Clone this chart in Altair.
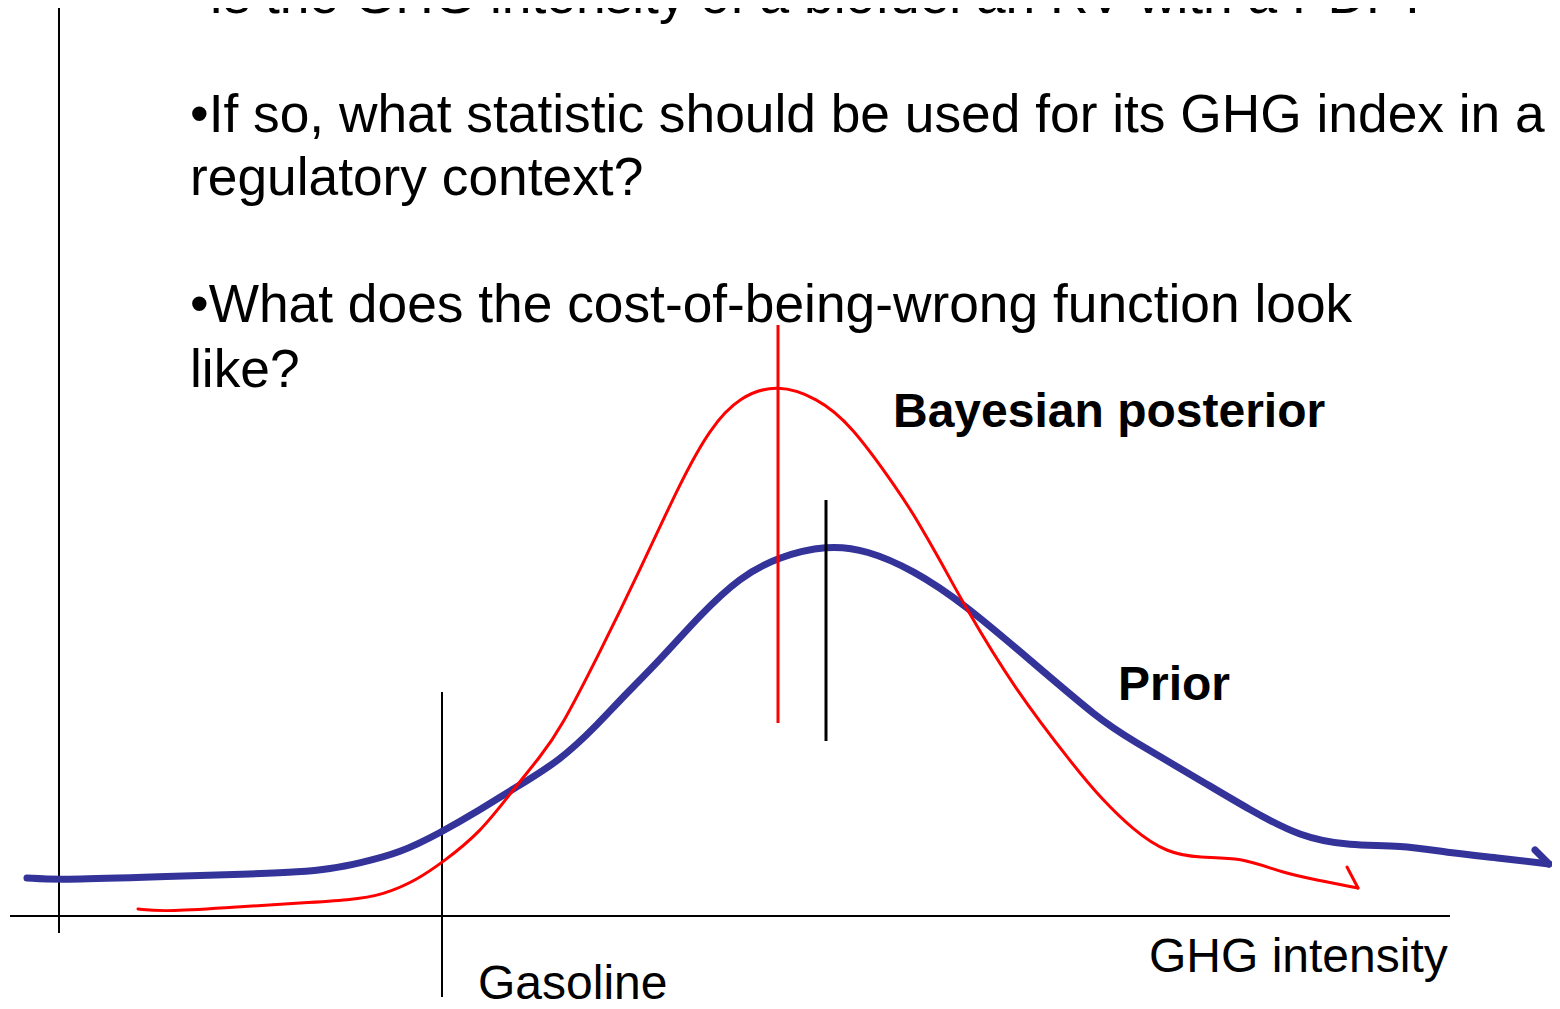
import altair as alt
import pandas as pd

# Prior (blue) curve: GHG intensity vs density (sketch units)
prior_x = [-32, 0, 91, 191, 241, 271, 301, 341, 381, 421, 454, 501, 541, 561, 601, 641,
           681, 719, 768, 808, 854, 904, 971, 1041, 1071, 1141, 1191, 1241, 1291, 1341,
           1391, 1441, 1490]
prior_y = [38, 36, 39, 42, 44, 47, 53, 63, 83, 106, 127, 155, 194, 216, 256, 301,
           339, 359, 371, 366, 346, 313, 256, 196, 177, 136, 106, 79, 70, 71,
           63, 58, 52]

# Bayesian posterior (red) curve
post_x = [79, 106, 191, 241, 291, 324, 358, 384, 421, 454, 481, 501, 541, 581,
          621, 651, 681, 719, 758, 791, 841, 858, 881, 904, 954, 1018, 1041, 1074,
          1108, 1141, 1181, 1224, 1258, 1299]
post_y = [7, 4, 10, 13, 16, 21, 36, 54, 83, 126, 159, 186, 264, 346,
          433, 488, 520, 532, 518, 493, 423, 396, 356, 313, 229, 146, 119, 86,
          63, 58, 59, 43, 36, 28]

# Arrow heads (start, end)
prior_head_x = [1476, 1490]
prior_head_y = [66, 52]
post_head_x = [1288, 1299]
post_head_y = [49, 28]

# Reference lines
gasoline_x = 383
post_mode_x = 719
prior_mean_x = 767

texts = ["\u2022Is the GHG intensity of a biofuel an RV with a PDF?",
         "\u2022If so, what statistic should be used for its GHG index in a",
         "regulatory context?",
         "\u2022What does the cost-of-being-wrong function look",
         "like?",
         "GHG intensity",
         "Gasoline"]
texts_x = [131, 131, 131, 131, 131, 1090, 419]
texts_y = [903, 784, 721, 594, 529, -56, -83]
texts_size = [53.3, 53.3, 53.3, 53.3, 53.3, 48, 48]

bold_texts = ["Bayesian posterior", "Prior"]
bold_x = [834, 1059]
bold_y = [489, 216]

X = alt.Scale(domain=[-51, 1493], nice=False, zero=False)
Y = alt.Scale(domain=[-85, 908], nice=False, zero=False)


def xq(f):
    return alt.X(f, type="quantitative", scale=X, axis=None)


def yq(f):
    return alt.Y(f, type="quantitative", scale=Y, axis=None)


prior_df = pd.DataFrame({"x": prior_x, "y": prior_y})
post_df = pd.DataFrame({"x": post_x, "y": post_y})

prior_line = alt.Chart(prior_df).mark_line(
    color="#333399", strokeWidth=7, strokeCap="round", strokeJoin="round",
    interpolate="basis").encode(x=xq("x"), y=yq("y"))
post_line = alt.Chart(post_df).mark_line(
    color="#ff0000", strokeWidth=3, strokeCap="round", strokeJoin="round",
    interpolate="basis").encode(x=xq("x"), y=yq("y"))

prior_head = alt.Chart(pd.DataFrame({"x": prior_head_x, "y": prior_head_y})).mark_line(
    color="#333399", strokeWidth=7, strokeCap="round").encode(x=xq("x"), y=yq("y"))
post_head = alt.Chart(pd.DataFrame({"x": post_head_x, "y": post_head_y})).mark_line(
    color="#ff0000", strokeWidth=3, strokeCap="round").encode(x=xq("x"), y=yq("y"))

# Axes drawn as rules
vaxis = alt.Chart(pd.DataFrame({"x": [0], "y": [-17], "y2": [908]})).mark_rule(
    color="black", strokeWidth=2).encode(x=xq("x"), y=yq("y"), y2="y2")
haxis = alt.Chart(pd.DataFrame({"x": [-49], "x2": [1391], "y": [0]})).mark_rule(
    color="black", strokeWidth=2).encode(x=xq("x"), x2="x2", y=yq("y"))
gas = alt.Chart(pd.DataFrame({"x": [gasoline_x], "y": [-81], "y2": [224]})).mark_rule(
    color="black", strokeWidth=2).encode(x=xq("x"), y=yq("y"), y2="y2")
mode_rule = alt.Chart(pd.DataFrame({"x": [post_mode_x], "y": [193], "y2": [591]})).mark_rule(
    color="#ff0000", strokeWidth=3).encode(x=xq("x"), y=yq("y"), y2="y2")
mean_rule = alt.Chart(pd.DataFrame({"x": [prior_mean_x], "y": [175], "y2": [416]})).mark_rule(
    color="black", strokeWidth=3).encode(x=xq("x"), y=yq("y"), y2="y2")

text_df = pd.DataFrame({"t": texts, "x": texts_x, "y": texts_y, "s": texts_size})
text_layer = alt.Chart(text_df).mark_text(
    align="left", baseline="alphabetic", font="Liberation Sans", color="black").encode(
    x=xq("x"), y=yq("y"), text="t:N", size=alt.Size("s:Q", scale=None))

bold_df = pd.DataFrame({"t": bold_texts, "x": bold_x, "y": bold_y})
bold_layer = alt.Chart(bold_df).mark_text(
    align="left", baseline="alphabetic", font="Liberation Sans", fontWeight="bold",
    fontSize=48, color="black").encode(x=xq("x"), y=yq("y"), text="t:N")

chart = alt.layer(
    vaxis, haxis, gas, prior_line, prior_head, post_line, post_head,
    mode_rule, mean_rule, text_layer, bold_layer
).properties(
    width=1544, height=993, autosize=alt.AutoSizeParams(type="none"), padding=0,
    background="white"
).configure_view(stroke=None)

chart.save("out.html", embed_options={"renderer": "svg", "actions": False})
